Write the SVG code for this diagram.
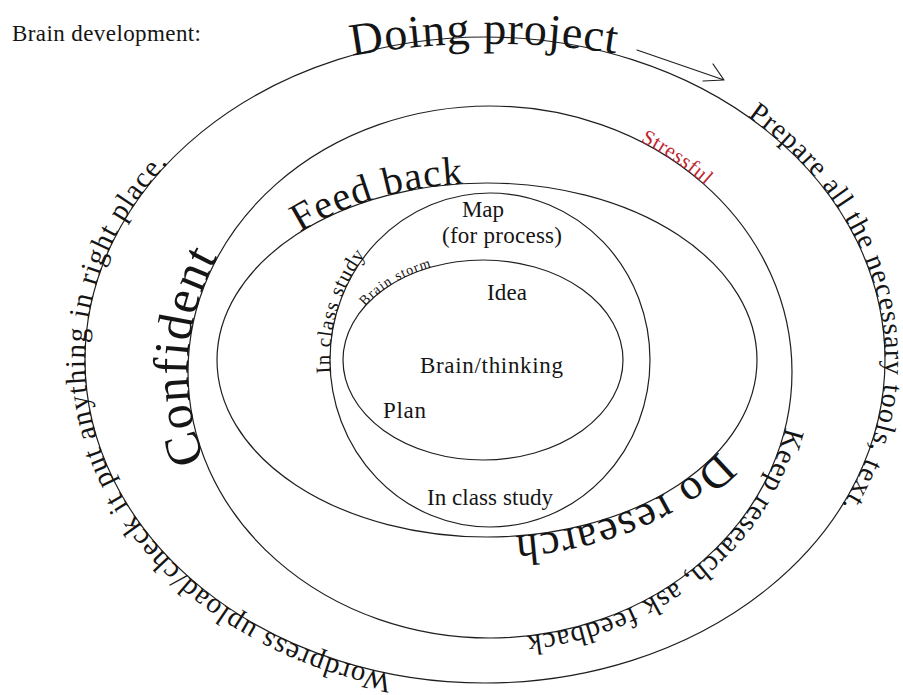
<svg xmlns="http://www.w3.org/2000/svg" width="903" height="695" viewBox="0 0 903 695">
<style>
  .ring { fill: none; stroke: #1f1f1f; stroke-width: 1.2; }
  text { font-family: "Liberation Serif", "DejaVu Serif", serif; fill: #151515; }
  .lbl { font-size: 23px; }
  .red { fill: #c0262f; }
  .con { fill: none; stroke: #1f1f1f; stroke-width: 1.2; stroke-linecap: round; stroke-linejoin: round; }
</style>
<defs>
  <path id="p-doing" d="M352,56 Q486,32 624,55"/>
  <path id="p-prepare" d="M747.4,116.2 A400,323 0 0,1 808.6,549.9"/>
  <path id="p-wordpress" d="M392.3,674.2 A400,323 0 0,1 202.2,131.6"/>
  <path id="p-keep" d="M785.4,427.3 A302,266 0 0,1 490,638"/>
  <path id="p-confident" d="M205,459.9 A302,266 0 0,1 242.6,219.4"/>
  <path id="p-stressful" d="M640.1,141.2 A302,266 0 0,1 728,208.2"/>
  <path id="p-feed" d="M300,232.3 A270,177 0 0,1 510.5,183.7"/>
  <path id="p-do" d="M718.4,451.2 A270,177 0 0,1 477.6,536.9"/>
  <path id="p-inclass" d="M330.5,373.1 A160,167 0 0,1 387.2,232.1"/>
  <path id="p-brainstorm" d="M364.9,306.3 A140,100 0 0,1 458.7,261.5"/>
</defs>
<rect width="903" height="695" fill="#ffffff"/>

<text x="12" y="41" font-size="23" textLength="189">Brain development:</text>

<g id="ring-doing-project">
  <ellipse class="ring" cx="485" cy="360" rx="400" ry="323"/>
  <text font-size="46"><textPath href="#p-doing" textLength="265">Doing project</textPath></text>
  <text font-size="28"><textPath href="#p-prepare" textLength="445">Prepare all the necessary tools, text.</textPath></text>
  <text font-size="29"><textPath href="#p-wordpress" textLength="695">Wordpress upload/check it put anything in right place.</textPath></text>
</g>

<g id="ring-confident">
  <ellipse class="ring" cx="490" cy="372" rx="302" ry="266"/>
  <text font-size="50"><textPath href="#p-confident" textLength="210">Confident</textPath></text>
  <text font-size="21" class="red"><textPath href="#p-stressful" textLength="79">Stressful</textPath></text>
  <text font-size="29"><textPath href="#p-keep" textLength="354">Keep research, ask feedback</textPath></text>
</g>

<g id="ring-feed-back">
  <ellipse class="ring" cx="487" cy="360" rx="270" ry="177"/>
  <text font-size="40"><textPath href="#p-feed" textLength="172">Feed back</textPath></text>
  <text font-size="44"><textPath href="#p-do" textLength="225">Do research</textPath></text>
</g>

<g id="ring-map">
  <ellipse class="ring" cx="490" cy="360" rx="160" ry="167"/>
  <text class="lbl" x="462" y="217" textLength="42">Map</text>
  <text class="lbl" x="442" y="243" textLength="120">(for process)</text>
  <text font-size="21"><textPath href="#p-inclass" textLength="126">In class study</textPath></text>
  <text class="lbl" x="427" y="505" textLength="126">In class study</text>
</g>

<g id="ring-brain">
  <ellipse class="ring" cx="483" cy="360" rx="140" ry="100"/>
  <text font-size="14"><textPath href="#p-brainstorm" textLength="78">Brain storm</textPath></text>
  <text class="lbl" x="487" y="300" textLength="40">Idea</text>
  <text class="lbl" x="420" y="373" textLength="143">Brain/thinking</text>
  <text class="lbl" x="383" y="418" textLength="43">Plan</text>
</g>

<g id="connectors">
  <path class="con" d="M637,50 L724,80 M713,64 L724,80 L703,81"/>
</g>
</svg>
